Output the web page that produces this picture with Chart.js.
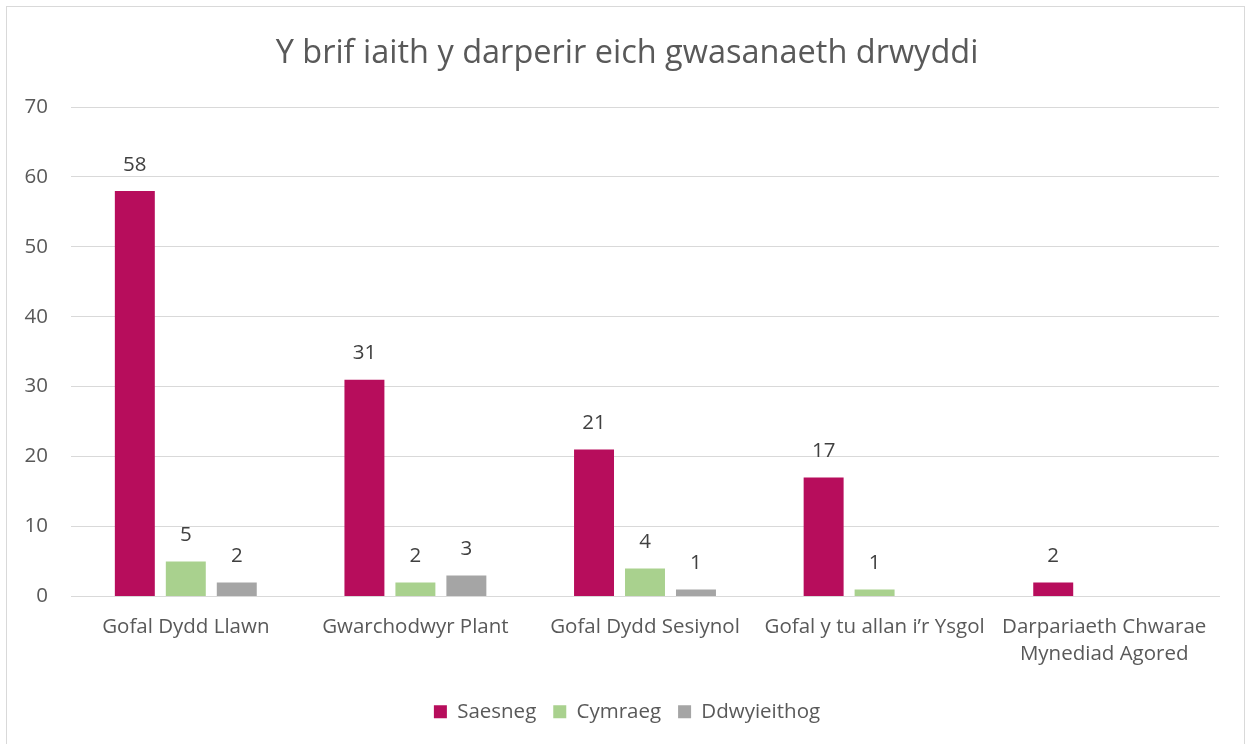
<!DOCTYPE html>
<html>
<head>
<meta charset="utf-8">
<script src="https://cdn.jsdelivr.net/npm/chart.js@4.4.1/dist/chart.umd.min.js"></script>
<style>
  body { margin: 0; background: #fff; overflow: hidden; }
  #box {
    position: absolute; left: 6px; top: 6px;
    width: 1237px; height: 760px;
    border: 1px solid #d9d9d9; background: #fff;
  }
  #chartWrap { position: relative; width: 1237px; height: 737px; }
</style>
</head>
<body>
<div id="box">
  <div id="chartWrap"><canvas id="langChart"></canvas></div>
</div>
<script>
// data
var categories = [
    "Gofal Dydd Llawn",
    "Gwarchodwyr Plant",
    "Gofal Dydd Sesiynol",
    "Gofal y tu allan i\u2019r Ysgol",
    ["Darpariaeth Chwarae", "Mynediad Agored"]
];
var seriesNames = ["Saesneg", "Cymraeg", "Ddwyieithog"];
var saesneg = [58, 31, 21, 17, 2];
var cymraeg = [5, 2, 4, 1, null];
var ddwyieithog = [2, 3, 1, null, null];
var yTicks = [0, 10, 20, 30, 40, 50, 60, 70];

var colours = ["#b70d5c", "#a9d18e", "#a5a5a5"];
var fontName = '"Open Sans", "Noto Sans", sans-serif';
var textSize = 20.5;

// value labels above bars (no datalabels plugin available)
var valueLabels = {
    id: "valueLabels",
    afterDatasetsDraw(chart) {
        var ctx = chart.ctx;
        ctx.save();
        ctx.font = textSize + "px " + fontName;
        ctx.fillStyle = "#404040";
        ctx.textAlign = "center";
        ctx.textBaseline = "middle";
        chart.data.datasets.forEach((ds, i) => {
            chart.getDatasetMeta(i).data.forEach((bar, j) => {
                var v = ds.data[j];
                if (v == null) return;
                ctx.fillText(v, bar.x, bar.y - 26);
            });
        });
        ctx.restore();
    }
};

var ctx = document.getElementById("langChart").getContext("2d");

new Chart(ctx, {
    type: "bar",
    data: {
        labels: categories,
        datasets: [
            { label: seriesNames[0], data: saesneg, backgroundColor: colours[0] },
            { label: seriesNames[1], data: cymraeg, backgroundColor: colours[1] },
            { label: seriesNames[2], data: ddwyieithog, backgroundColor: colours[2] }
        ]
    },
    options: {
        responsive: true,
        maintainAspectRatio: false,
        animation: false,
        categoryPercentage: 0.666,
        barPercentage: 0.784,
        layout: { padding: { left: 3, right: 0, top: 0, bottom: 12 } },
        plugins: {
            title: {
                display: true,
                text: "Y brif iaith y darperir eich gwasanaeth drwyddi",
                color: "#595959",
                font: { family: fontName, size: 32.5, weight: "normal", lineHeight: 1.2 },
                padding: { top: 27, bottom: 34 }
            },
            legend: {
                position: "bottom",
                labels: {
                    color: "#595959",
                    font: { family: fontName, size: textSize },
                    boxWidth: 13,
                    boxHeight: 13,
                    padding: 17
                }
            },
            tooltip: { enabled: false }
        },
        scales: {
            x: {
                grid: { display: false, drawTicks: false },
                border: { color: "#d9d9d9" },
                ticks: {
                    color: "#595959",
                    font: { family: fontName, size: textSize, lineHeight: 1.32 },
                    padding: 17,
                    maxRotation: 0,
                    autoSkip: false
                }
            },
            y: {
                min: 0,
                max: 70,
                afterBuildTicks(scale) {
                    scale.ticks = yTicks.map(v => ({ value: v }));
                },
                afterFit(scale) { scale.width = 61; },
                grid: { color: "#d9d9d9", drawTicks: false },
                border: { display: false },
                ticks: {
                    color: "#595959",
                    font: { family: fontName, size: textSize },
                    padding: 23
                }
            },
            // empty right-hand gap, like the reference plot margin
            yRight: {
                axis: "y",
                position: "right",
                min: 0,
                max: 70,
                afterFit(scale) { scale.width = 25; },
                grid: { display: false, drawTicks: false },
                border: { display: false },
                ticks: { display: false }
            }
        }
    },
    plugins: [valueLabels]
});
</script>
</body>
</html>
